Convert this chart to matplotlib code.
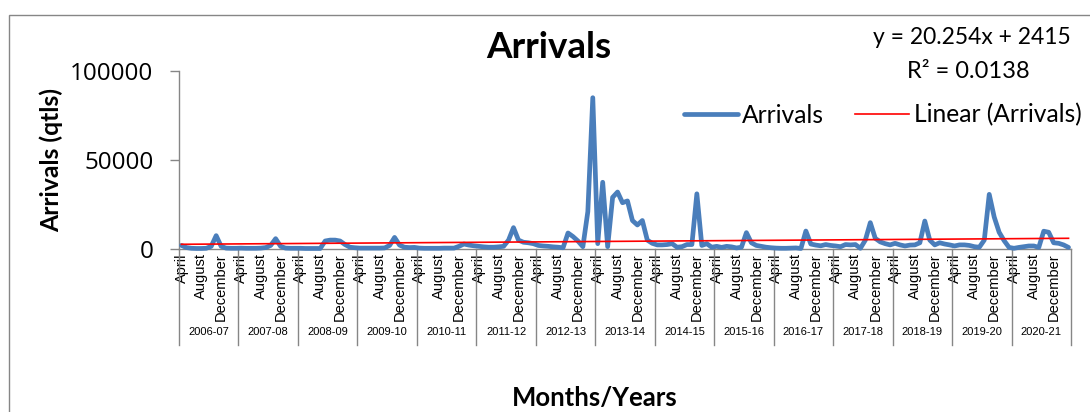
import numpy as np
import matplotlib
matplotlib.use("Agg")
import matplotlib.pyplot as plt
from matplotlib.patches import Rectangle

plt.rcParams["font.family"] = ["Lato", "DejaVu Sans"]

# financial years (April..March), one group of 12 months each
years = ["2006-07", "2007-08", "2008-09", "2009-10", "2010-11",
         "2011-12", "2012-13", "2013-14", "2014-15", "2015-16",
         "2016-17", "2017-18", "2018-19", "2019-20", "2020-21"]
months = ["April", "May", "June", "July", "August", "September",
          "October", "November", "December", "January", "February", "March"]
shown_months = ["April", "August", "December"]

# monthly arrivals (qtls), one row per year
arrivals = [
    2000, 800, 400, 300, 300, 400, 1500, 7500, 1500, 500, 400, 400,
    500, 400, 400, 400, 500, 800, 2000, 5800, 1500, 500, 400, 400,
    400, 300, 300, 300, 300, 4500, 5000, 5000, 4500, 2500, 1000, 700,
    500, 500, 500, 500, 500, 600, 2000, 6500, 2200, 1000, 800, 900,
    500, 400, 400, 400, 400, 500, 500, 500, 1500, 2800, 2200, 1800,
    1500, 1200, 1000, 1000, 1200, 1500, 5000, 12000, 5000, 3800, 3500, 3000,
    2000, 1700, 1500, 1200, 1000, 700, 9000, 7000, 4500, 1300, 21000, 85000,
    3000, 37500, 1300, 29000, 32000, 26000, 27000, 16000, 13500, 16000, 5000, 3200,
    2300, 2300, 2500, 3000, 1000, 1300, 2500, 2500, 31000, 2000, 3000, 1000,
    1500, 900, 1500, 1200, 600, 1000, 9200, 3500, 2000, 1500, 1000, 700,
    500, 400, 400, 500, 600, 300, 10100, 2800, 2200, 1800, 2500, 2000,
    1700, 1300, 2500, 2300, 2500, 400, 5000, 14800, 6000, 4000, 3000, 2300,
    3200, 2300, 1700, 2200, 2300, 3500, 15700, 5000, 2300, 3500, 2800, 2300,
    1700, 2300, 2300, 2000, 1300, 1000, 5000, 30700, 18000, 9400, 4700, 900,
    400, 900, 1300, 1700, 1700, 900, 10000, 9400, 3500, 3200, 2300, 900,
]
y_ticks = [0, 50000, 100000]
eq_text = "y = 20.254x + 2415"
r2_text = "R\u00b2 = 0.0138"

BLUE = "#4A7EBB"
RED = "#FF0000"
GREY = "#868686"
SMALL = ["Liberation Sans Narrow", "Liberation Sans", "DejaVu Sans"]
DIGITS = ["Open Sans", "DejaVu Sans"]

W, H = 1090, 412


def fx(px):
    return px / W


def fy(py):
    return 1 - py / H


fig = plt.figure(figsize=(W / 100, H / 100), dpi=100)
ax = fig.add_axes([fx(179), fy(249), fx(1071) - fx(179), fy(71) - fy(249)])

n = len(arrivals)
pos = np.arange(n) + 0.5
t = np.arange(1, n + 1)
slope, intercept = np.polyfit(t, arrivals, 1)
trend = slope * t + intercept

ax.plot(pos, arrivals, color=BLUE, lw=3.4, solid_joinstyle="round",
        solid_capstyle="round", clip_on=False, label="Arrivals", zorder=3)
ax.plot(pos, trend, color=RED, lw=1.2, clip_on=False,
        label="Linear (Arrivals)", zorder=4)

ax.set_xlim(0, n)
ax.set_ylim(0, 100000)
ax.set_yticks(y_ticks)
ax.set_yticklabels([str(v) for v in y_ticks], family=DIGITS, fontsize=17.5)
ax.tick_params(axis="y", direction="out", length=6.5, width=1, color=GREY,
               pad=12)

for side in ("top", "right"):
    ax.spines[side].set_visible(False)
for side in ("left", "bottom"):
    ax.spines[side].set_color(GREY)
    ax.spines[side].set_linewidth(1)

# month labels (April, August, December of each year)
tick_idx = [12 * k + months.index(m) for k in range(len(years)) for m in shown_months]
ax.set_xticks(pos[tick_idx])
ax.set_xticklabels([months[i % 12] for i in tick_idx], rotation=90,
                   fontsize=10.5, family=SMALL)
ax.tick_params(axis="x", length=0, pad=3)

# year group boxes under the month labels
axis_px = 249 - 71
sep_bottom = -(345 - 249) / axis_px
trans = ax.get_xaxis_transform()
for k in range(len(years) + 1):
    ax.plot([12 * k, 12 * k], [0, sep_bottom], transform=trans,
            color=GREY, lw=1, clip_on=False)
for k, yr in enumerate(years):
    ax.text(12 * k + 6, -(332 - 249) / axis_px, yr, transform=trans,
            ha="center", va="center", fontsize=8, family=SMALL[1:])

leg = ax.legend(loc="center left", bbox_to_anchor=(fx(684), fy(115)),
                bbox_transform=fig.transFigure, ncol=2, frameon=False,
                fontsize=17.7, handlelength=2.2, handletextpad=0.17,
                columnspacing=1.26, borderpad=0, borderaxespad=0)

fig.text(fx(549), fy(48), "Arrivals", ha="center", va="center",
         fontsize=26.5, weight="bold")
fig.text(fx(972), fy(38), eq_text, ha="center", va="center", fontsize=16.5)
fig.text(fx(968), fy(72), r2_text, ha="center", va="center", fontsize=17)
fig.text(fx(51), fy(160), "Arrivals (qtls)", rotation=90, ha="center",
         va="center", fontsize=17.8, weight="bold")
fig.text(fx(595), fy(398), "Months/Years", ha="center", va="center",
         fontsize=18.5, weight="bold")

# outer chart border (runs off the right and bottom of the picture)
fig.add_artist(Rectangle((fx(9), -0.1), 1.2, fy(15) + 0.1,
                         transform=fig.transFigure, fill=False,
                         edgecolor=GREY, lw=1))

fig.savefig("out.png", dpi=100)
